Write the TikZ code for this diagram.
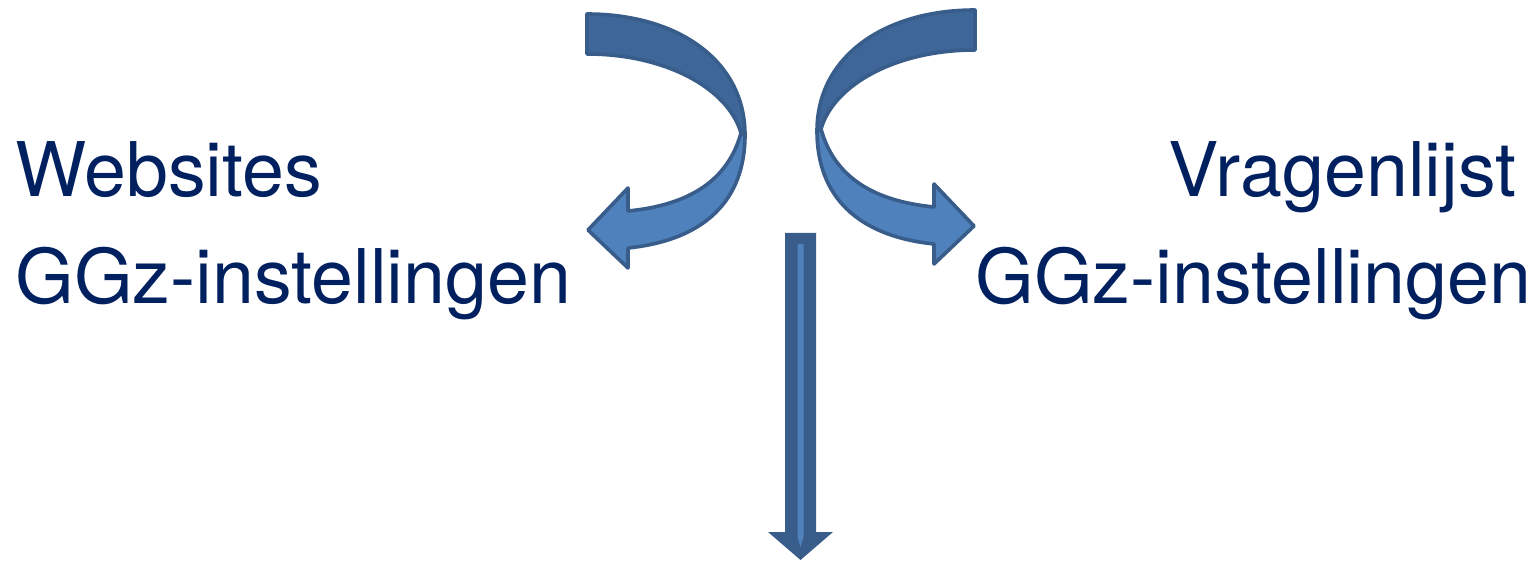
\documentclass[tikz,border=0pt]{standalone}
\usepackage{fontspec}
\setmainfont{TeX Gyre Heros}
\definecolor{txtblue}{HTML}{002060}
\definecolor{bandlight}{HTML}{4F81BD}
\definecolor{banddark}{HTML}{3F6699}
\definecolor{edgeblue}{HTML}{385D8A}
\tikzset{
  lbl/.style={inner sep=0pt, text=txtblue, font=\fontsize{37.7}{45}\selectfont},
  bandedge/.style={draw=edgeblue, line width=1.8pt, line join=round},
  curvearrow/.pic={
    % back (upper) band
    \path[bandedge, fill=banddark]
      (587,14) .. controls (677,14) and (745,60) .. (745,135)
      -- (741,133) .. controls (728,88) and (665,54) .. (587,54) -- cycle;
    % front (lower) band with head
    \path[bandedge, fill=bandlight]
      (741,133) .. controls (728,180) and (690,205) .. (628,211)
      -- (628,188) -- (588,230) -- (628,268) -- (628,248)
      .. controls (705,240) and (745,200) .. (745,135) -- cycle;
  }
}
\begin{document}
\begin{tikzpicture}[x=0.5pt, y=-0.5pt]
\useasboundingbox (0,0) rectangle (1532,561);
% curved arrows
\pic {curvearrow};
\pic[shift={(1562,-4)}, xscale=-1] {curvearrow};
% straight down arrow
\fill[edgeblue] (785,233) -- (816,233) -- (816,532) -- (833,532) -- (800.5,560)
  -- (768,532) -- (785,532) -- cycle;
\fill[bandlight] (797.5,244) -- (803.5,244) -- (803.5,537) -- (800.5,547) -- (797.5,537) -- cycle;
% labels
\node[lbl, anchor=base west] (wl1) at (15,197) {Websites};
\node[lbl, anchor=base west] (wl2) at (15,304) {GGz-instellingen};
\node[lbl, anchor=base west] (vr1) at (1168,197) {Vragenlijst};
\node[lbl, anchor=base west] (vr2) at (975,304) {GGz-instellingen};
\end{tikzpicture}
\end{document}
